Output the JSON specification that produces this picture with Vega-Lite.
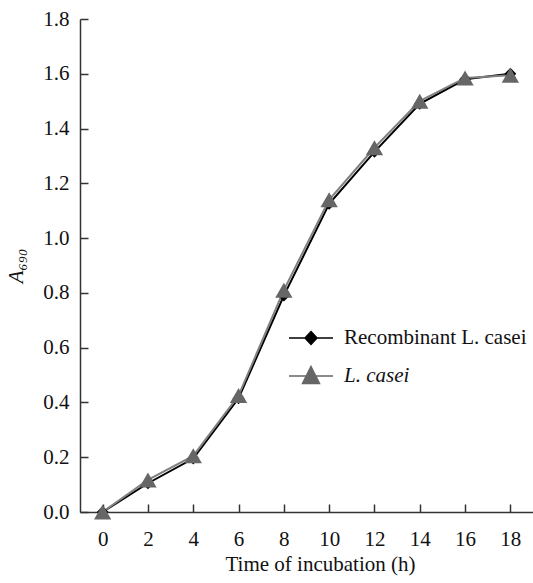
{
  "$schema": "https://vega.github.io/schema/vega-lite/v6.json",
  "width": 453,
  "height": 493,
  "autosize": {"type": "none"},
  "padding": {"left": 80, "top": 19, "right": 0, "bottom": 71},
  "background": "white",
  "config": {
    "view": {"stroke": null},
    "font": "Liberation Serif",
    "axis": {
      "grid": false,
      "domainColor": "#333333",
      "domainWidth": 1.5,
      "tickColor": "#333333",
      "tickWidth": 1.5,
      "tickSize": -8,
      "labelFont": "Liberation Serif",
      "labelFontSize": 21,
      "labelColor": "#111111",
      "titleFont": "Liberation Serif",
      "titleFontSize": 21,
      "titleFontWeight": "normal",
      "titleColor": "#111111"
    }
  },
  "data": {
    "values": [
      {"t": 0, "A": 0.0, "series": "Recombinant L. casei"},
      {"t": 2, "A": 0.105, "series": "Recombinant L. casei"},
      {"t": 4, "A": 0.195, "series": "Recombinant L. casei"},
      {"t": 6, "A": 0.415, "series": "Recombinant L. casei"},
      {"t": 8, "A": 0.79, "series": "Recombinant L. casei"},
      {"t": 10, "A": 1.125, "series": "Recombinant L. casei"},
      {"t": 12, "A": 1.315, "series": "Recombinant L. casei"},
      {"t": 14, "A": 1.49, "series": "Recombinant L. casei"},
      {"t": 16, "A": 1.58, "series": "Recombinant L. casei"},
      {"t": 18, "A": 1.6, "series": "Recombinant L. casei"},
      {"t": 0, "A": 0.0, "series": "L. casei"},
      {"t": 2, "A": 0.117, "series": "L. casei"},
      {"t": 4, "A": 0.205, "series": "L. casei"},
      {"t": 6, "A": 0.425, "series": "L. casei"},
      {"t": 8, "A": 0.81, "series": "L. casei"},
      {"t": 10, "A": 1.14, "series": "L. casei"},
      {"t": 12, "A": 1.33, "series": "L. casei"},
      {"t": 14, "A": 1.5, "series": "L. casei"},
      {"t": 16, "A": 1.585, "series": "L. casei"},
      {"t": 18, "A": 1.595, "series": "L. casei"}
    ]
  },
  "encoding": {
    "x": {
      "field": "t",
      "type": "quantitative",
      "scale": {"domain": [-1, 19], "nice": false, "zero": false},
      "axis": {
        "values": [0, 2, 4, 6, 8, 10, 12, 14, 16, 18],
        "format": "d",
        "title": "Time of incubation (h)",
        "labelPadding": 24,
        "titlePadding": 4,
        "titleX": 240
      }
    },
    "y": {
      "field": "A",
      "type": "quantitative",
      "scale": {"domain": [0, 1.8], "nice": false},
      "axis": {
        "values": [0, 0.2, 0.4, 0.6, 0.8, 1.0, 1.2, 1.4, 1.6, 1.8],
        "format": ".1f",
        "title": "A₆₉₀",
        "titleFontStyle": "italic",
        "labelPadding": 19,
        "titlePadding": 16
      }
    }
  },
  "layer": [
    {
      "mark": {"type": "line", "strokeWidth": 2},
      "encoding": {
        "color": {
          "field": "series",
          "type": "nominal",
          "scale": {"domain": ["Recombinant L. casei", "L. casei"], "range": ["#000000", "#808080"]},
          "legend": null
        }
      }
    },
    {
      "mark": {"type": "point", "filled": true, "opacity": 1},
      "encoding": {
        "shape": {
          "field": "series",
          "type": "nominal",
          "scale": {"domain": ["Recombinant L. casei", "L. casei"], "range": ["diamond", "triangle-up"]},
          "legend": null
        },
        "fill": {
          "field": "series",
          "type": "nominal",
          "scale": {"domain": ["Recombinant L. casei", "L. casei"], "range": ["#000000", "#666666"]},
          "legend": null
        },
        "size": {
          "field": "series",
          "type": "nominal",
          "scale": {"domain": ["Recombinant L. casei", "L. casei"], "range": [140, 300]},
          "legend": null
        }
      }
    },
    {
      "transform": [{"filter": "datum.t < 0"}],
      "mark": {"type": "point", "filled": true, "opacity": 1, "size": 400, "strokeWidth": 1.5},
      "encoding": {
        "shape": {
          "field": "series",
          "type": "nominal",
          "scale": {
            "domain": ["Recombinant L. casei", "L. casei"],
            "range": [
              "M-2.2,0H2.2M0,-0.65L0.6,0L0,0.65L-0.6,0Z",
              "M-2.2,0H2.2M0,-0.95L0.85,0.75L-0.85,0.75Z"
            ]
          },
          "legend": {
            "title": null,
            "orient": "none",
            "legendX": 220,
            "legendY": 308,
            "padding": 0,
            "symbolSize": 400,
            "rowPadding": 15,
            "labelOffset": 22,
            "labelLimit": 400,
            "labelFont": "Liberation Serif",
            "labelFontSize": 21,
            "labelColor": "#111111",
            "labelFontStyle": {"expr": "datum.value === 'L. casei' ? 'italic' : 'normal'"}
          }
        },
        "fill": {
          "field": "series",
          "type": "nominal",
          "scale": {"domain": ["Recombinant L. casei", "L. casei"], "range": ["#000000", "#666666"]}
        },
        "stroke": {
          "field": "series",
          "type": "nominal",
          "scale": {"domain": ["Recombinant L. casei", "L. casei"], "range": ["#000000", "#666666"]}
        }
      }
    }
  ],
  "resolve": {
    "scale": {
      "color": "independent",
      "shape": "independent",
      "fill": "independent",
      "stroke": "independent",
      "size": "independent"
    }
  }
}
